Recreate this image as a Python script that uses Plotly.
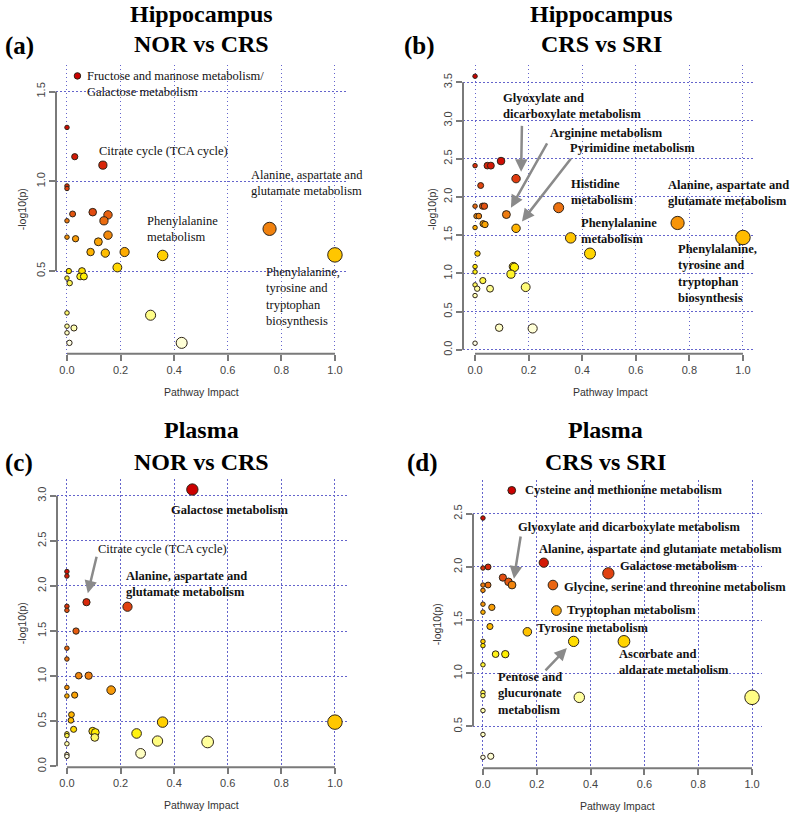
import numpy as np
import plotly.graph_objects as go
from plotly.colors import sample_colorscale

# ---------------- data ----------------
# (a) Hippocampus NOR vs CRS
a_impact = [0.039, 0.0, 0.029, 0.134, 0.0, 0.0, 0.021, 0.0, 0.096, 0.153, 0.138, 0.153, 0.0, 0.032,
            0.117, 0.088, 0.143, 0.215, 0.357, 0.188, 0.007, 0.056, 0.0, 0.049, 0.063, 0.010, 0.0,
            0.312, 0.0, 0.026, 0.0, 0.009, 0.428, 0.756, 1.0]
a_logp = [1.587, 1.30, 1.137, 1.09, 0.974, 0.96, 0.818, 0.78, 0.828, 0.813, 0.78, 0.70, 0.689, 0.68,
          0.663, 0.606, 0.60, 0.606, 0.587, 0.52, 0.50, 0.50, 0.461, 0.47, 0.47, 0.433, 0.267,
          0.254, 0.193, 0.183, 0.156, 0.10, 0.10, 0.735, 0.59]

# (b) Hippocampus CRS vs SRI
b_impact = [0.0, 0.0, 0.046, 0.059, 0.097, 0.153, 0.021, 0.0, 0.028, 0.035, 0.005, 0.014, 0.117,
            0.312, 0.030, 0.037, 0.0, 0.153, 0.357, 0.429, 0.009, 0.0, 0.0, 0.143, 0.147, 0.134,
            0.029, 0.0, 0.008, 0.056, 0.189, 0.0, 0.09, 0.215, 0.0, 0.756, 1.0]
b_logp = [3.58, 2.41, 2.41, 2.41, 2.47, 2.24, 2.15, 1.88, 1.88, 1.88, 1.75, 1.75, 1.77,
          1.86, 1.65, 1.64, 1.60, 1.59, 1.465, 1.26, 1.26, 1.09, 1.02, 1.09, 1.08, 0.99,
          0.906, 0.85, 0.80, 0.80, 0.82, 0.71, 0.29, 0.28, 0.087, 1.66, 1.47]

# (c) Plasma NOR vs CRS
c_impact = [0.468, 0.0, 0.0, 0.073, 0.226, 0.0, 0.0, 0.034, 0.0, 0.0, 0.044, 0.081, 0.0, 0.0,
            0.029, 0.165, 0.017, 0.015, 0.357, 1.0, 0.025, 0.0, 0.0, 0.096, 0.106, 0.104, 0.26,
            0.338, 0.525, 0.0, 0.0, 0.0, 0.275]
c_logp = [3.07, 2.16, 2.11, 1.82, 1.77, 1.775, 1.73, 1.50, 1.31, 1.19, 1.005, 1.005, 0.875, 0.78,
          0.79, 0.845, 0.573, 0.51, 0.49, 0.49, 0.41, 0.36, 0.34, 0.39, 0.375, 0.32, 0.364,
          0.28, 0.27, 0.25, 0.13, 0.11, 0.143]

# (d) Plasma CRS vs SRI
d_impact = [0.107, 0.0, 0.0, 0.019, 0.226, 0.466, 0.074, 0.095, 0.108, 0.0, 0.019, 0.0, 0.26,
            0.0, 0.033, 0.0, 0.273, 0.026, 0.165, 0.337, 0.524, 0.0, 0.0, 0.047, 0.083, 0.0,
            0.0, 0.0, 0.358, 1.0, 0.0, 0.0, 0.0, 0.029]
d_logp = [2.72, 2.46, 1.99, 2.0, 2.04, 1.94, 1.90, 1.86, 1.83, 1.83, 1.83, 1.78, 1.83,
          1.65, 1.62, 1.575, 1.59, 1.44, 1.39, 1.30, 1.30, 1.30, 1.26, 1.18, 1.18, 1.08,
          0.82, 0.79, 0.774, 0.774, 0.65, 0.425, 0.21, 0.22]

x_ticks = [0.0, 0.2, 0.4, 0.6, 0.8, 1.0]
a_yticks = [0.5, 1.0, 1.5]
b_yticks = [0.0, 0.5, 1.0, 1.5, 2.0, 2.5, 3.0, 3.5]
c_yticks = [0.0, 0.5, 1.0, 1.5, 2.0, 2.5, 3.0]
d_yticks = [0.5, 1.0, 1.5, 2.0, 2.5]

# ---------------- style ----------------
W, H = 790, 819
SERIF = "Liberation Serif, Times New Roman, serif"
SANS = "Liberation Sans, Arial, sans-serif"
HEAT = [[0.0, '#FFFFE8'], [0.12, '#FFFFA0'], [0.3, '#FFF000'], [0.5, '#FFB400'],
        [0.7, '#EE7A10'], [0.85, '#E04010'], [1.0, '#CC0000']]
GRID = '#6464cc'
GRID_DASH = '1.5px,2.5px'
AXC = '#7a7a7a'


def pxx(v):
    return v / W


def pxy(v):
    return 1 - v / H


def colors_for(vals):
    v = np.asarray(vals)
    rank = v.argsort(kind='stable').argsort()
    t = rank / (len(v) - 1)
    return sample_colorscale(HEAT, list(t))


def sizes_for(imp):
    return list(4.5 + 10 * np.sqrt(np.asarray(imp)))


panels = [
    dict(x=a_impact, y=a_logp, xa='x', ya='y', xd=[56, 347], yd=[65, 356],
         xr=[-0.041, 1.045], yr=[0.039, 1.65], yt=a_yticks),
    dict(x=b_impact, y=b_logp, xa='x2', ya='y2', xd=[463, 755], yd=[65, 356],
         xr=[-0.045, 1.045], yr=[-0.052, 3.732], yt=b_yticks),
    dict(x=c_impact, y=c_logp, xa='x3', ya='y3', xd=[57, 347], yd=[482, 772],
         xr=[-0.037, 1.045], yr=[-0.011, 3.186], yt=c_yticks),
    dict(x=d_impact, y=d_logp, xa='x4', ya='y4', xd=[473, 762], yd=[483, 773],
         xr=[-0.037, 1.037], yr=[0.107, 2.817], yt=d_yticks),
]

fig = go.Figure()
layout = dict(width=W, height=H, margin=dict(l=0, r=0, t=0, b=0),
              paper_bgcolor='white', plot_bgcolor='white', showlegend=False)
shapes = []
annotations = []

for i, p in enumerate(panels):
    n = '' if i == 0 else str(i + 1)
    fig.add_trace(go.Scatter(
        x=p['x'], y=p['y'], mode='markers', xaxis=p['xa'], yaxis=p['ya'],
        marker=dict(size=sizes_for(p['x']), color=colors_for(p['y']),
                    line=dict(color='#2e2418', width=1), opacity=1),
        hoverinfo='x+y'))
    layout['xaxis' + n] = dict(
        domain=[pxx(p['xd'][0]), pxx(p['xd'][1])], anchor=p['ya'], range=p['xr'],
        tickvals=x_ticks, ticktext=['%.1f' % v for v in x_ticks],
        showgrid=True, gridcolor=GRID, griddash=GRID_DASH, gridwidth=1,
        zeroline=False, showline=False, ticks='outside', ticklen=6, tickwidth=1.5,
        tickcolor=AXC, tickfont=dict(family=SANS, size=11, color='#444'))
    layout['yaxis' + n] = dict(
        domain=[pxy(p['yd'][1]), pxy(p['yd'][0])], anchor=p['xa'], range=p['yr'],
        tickvals=p['yt'], ticktext=['%.1f' % v for v in p['yt']], tickangle=-90,
        showgrid=True, gridcolor=GRID, griddash=GRID_DASH, gridwidth=1,
        zeroline=False, showline=False, ticks='outside', ticklen=6, tickwidth=1.5,
        tickcolor=AXC, tickfont=dict(family=SANS, size=11, color='#444'))
    # R-style axis lines spanning first to last tick
    shapes.append(dict(type='line', xref=p['xa'], yref=p['ya'] + ' domain',
                       x0=x_ticks[0], x1=x_ticks[-1], y0=0, y1=0,
                       line=dict(color=AXC, width=2)))
    shapes.append(dict(type='line', xref=p['xa'] + ' domain', yref=p['ya'],
                       x0=0, x1=0, y0=p['yt'][0], y1=p['yt'][-1],
                       line=dict(color=AXC, width=2)))
    # axis titles
    cx = (p['xd'][0] + p['xd'][1]) / 2
    cy = (p['yd'][0] + p['yd'][1]) / 2
    annotations.append(dict(text='Pathway Impact', xref='paper', yref='paper',
                            x=pxx(cx + [0, 1, 0, 0][i]), y=pxy(p['yd'][1] + 38),
                            showarrow=False, xanchor='center', yanchor='middle',
                            font=dict(family=SANS, size=10.5, color='#333')))
    annotations.append(dict(text='-log10(p)', xref='paper', yref='paper',
                            x=pxx(p['xd'][0] - [34, 31, 35, 36][i]), y=pxy(cy),
                            textangle=-90, showarrow=False, xanchor='center',
                            yanchor='middle',
                            font=dict(family=SANS, size=10.5, color='#333')))

# ---------------- titles ----------------
titles = [
    ('Hippocampus', 201, 14), ('NOR vs CRS', 201, 44),
    ('Hippocampus', 601, 14), ('CRS vs SRI', 601, 44),
    ('Plasma', 201, 433), ('NOR vs CRS', 201, 465),
    ('Plasma', 605, 433), ('CRS vs SRI', 605, 465),
]
for t, x, y in titles:
    annotations.append(dict(text='<b>%s</b>' % t, xref='paper', yref='paper',
                            x=pxx(x), y=pxy(y), showarrow=False, xanchor='center',
                            yanchor='middle',
                            font=dict(family=SERIF, size=24, color='black')))
for t, x, y in [('(a)', 3, 46), ('(b)', 402, 46), ('(c)', 3, 466), ('(d)', 405, 466)]:
    annotations.append(dict(text='<b>%s</b>' % t, xref='paper', yref='paper',
                            x=pxx(x), y=pxy(y), showarrow=False, xanchor='left',
                            yanchor='middle',
                            font=dict(family=SERIF, size=25, color='black')))

# ---------------- pathway labels ----------------
labels = [
    # (a) regular
    ('x', 'y', 'Fructose and mannose metabolism/<br>Galactose metabolism', 0.071, 1.544, False),
    ('x', 'y', 'Citrate cycle (TCA cycle)', 0.116, 1.167, False),
    ('x', 'y', 'Alanine, aspartate and<br>glutamate metabolism', 0.683, 0.989, False),
    ('x', 'y', 'Phenylalanine<br>metabolism', 0.295, 0.736, False),
    ('x', 'y', 'Phenylalanine,<br>tyrosine and<br>tryptophan<br>biosynthesis', 0.739, 0.361, False),
    # (b) bold
    ('x2', 'y2', 'Glyoxylate and<br>dicarboxylate metabolism', 0.101, 3.186, True),
    ('x2', 'y2', 'Arginine metabolism', 0.276, 2.835, True),
    ('x2', 'y2', 'Pyrimidine metabolism', 0.351, 2.64, True),
    ('x2', 'y2', 'Histidine<br>metabolism', 0.354, 2.06, True),
    ('x2', 'y2', 'Alanine, aspartate and<br>glutamate metabolism', 0.716, 2.048, True),
    ('x2', 'y2', 'Phenylalanine<br>metabolism', 0.392, 1.554, True),
    ('x2', 'y2', 'Phenylalanine,<br>tyrosine and<br>tryptophan<br>biosynthesis', 0.754, 1.0, True),
    # (c)
    ('x3', 'y3', 'Galactose metabolism', 0.384, 2.845, True),
    ('x3', 'y3', 'Citrate cycle (TCA cycle)', 0.112, 2.415, False),
    ('x3', 'y3', 'Alanine, aspartate and<br>glutamate metabolism', 0.216, 2.023, True),
    # (d)
    ('x4', 'y4', 'Cysteine and methionine metabolism', 0.152, 2.724, True),
    ('x4', 'y4', 'Glyoxylate and dicarboxylate metabolism', 0.126, 2.379, True),
    ('x4', 'y4', 'Alanine, aspartate and glutamate metabolism', 0.204, 2.173, True),
    ('x4', 'y4', 'Galactose metabolism', 0.506, 2.005, True),
    ('x4', 'y4', 'Glycine, serine and threonine metabolism', 0.297, 1.808, True),
    ('x4', 'y4', 'Tryptophan metabolism', 0.309, 1.593, True),
    ('x4', 'y4', 'Tyrosine metabolism', 0.197, 1.425, True),
    ('x4', 'y4', 'Ascorbate and<br>aldarate metabolism', 0.502, 1.103, True),
    ('x4', 'y4', 'Pentose and<br>glucuronate<br>metabolism', 0.052, 0.808, True),
]
for xa, ya, t, x, y, bold in labels:
    annotations.append(dict(text=('<b>%s</b>' % t) if bold else t, xref=xa, yref=ya,
                            x=x, y=y, showarrow=False, xanchor='left', yanchor='middle',
                            align='left', borderpad=0,
                            font=dict(family=SERIF, size=12.5, color='#111')))

# arrows: (axis, head x, head y, tail x, tail y)
arrows = [
    ('x2', 'y2', 0.172, 2.33, 0.175, 2.95),
    ('x2', 'y2', 0.134, 1.86, 0.272, 2.72),
    ('x2', 'y2', 0.175, 1.68, 0.362, 2.52),
    ('x3', 'y3', 0.078, 1.92, 0.112, 2.34),
    ('x4', 'y4', 0.115, 1.89, 0.141, 2.30),
    ('x4', 'y4', 0.312, 1.238, 0.227, 1.014),
]
for xa, ya, hx, hy, tx, ty in arrows:
    annotations.append(dict(text='', xref=xa, yref=ya, x=hx, y=hy, axref=xa, ayref=ya,
                            ax=tx, ay=ty, showarrow=True, arrowhead=2, arrowsize=1,
                            arrowwidth=2.5, arrowcolor='#8a8a8a', standoff=0,
                            startstandoff=0))

layout['shapes'] = shapes
layout['annotations'] = annotations
fig.update_layout(**layout)
fig.write_html('out.html')
